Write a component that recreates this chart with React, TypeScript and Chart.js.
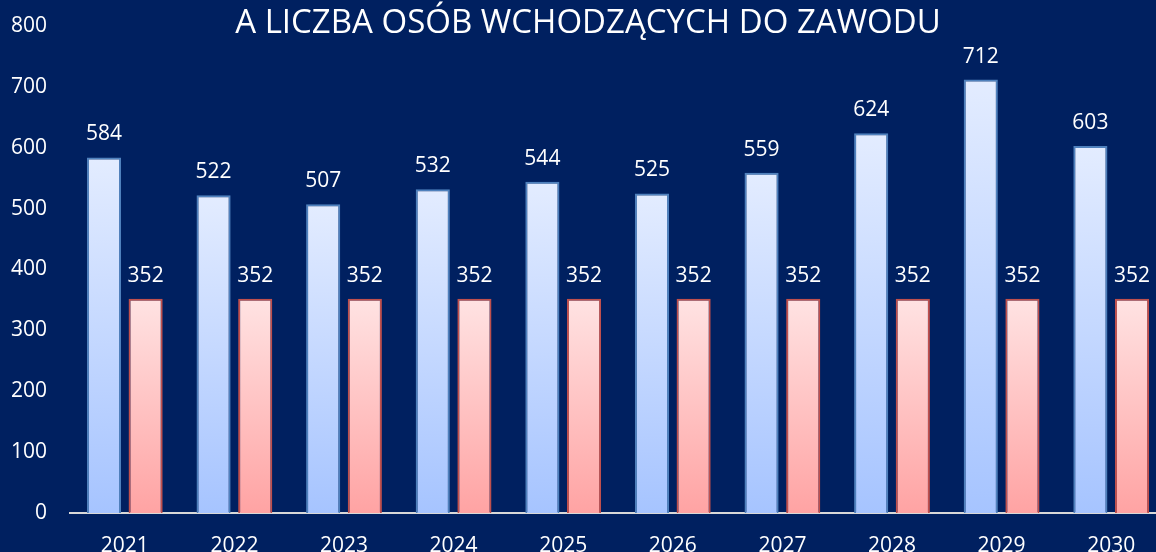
import React, { useEffect, useRef } from "react";
import { Chart, registerables } from "chart.js";

Chart.register(...registerables);

const TITLE = "A LICZBA OSÓB WCHODZĄCYCH DO ZAWODU";
const YEARS = ["2021", "2022", "2023", "2024", "2025", "2026", "2027", "2028", "2029", "2030"];
const SERIES_A = [584, 522, 507, 532, 544, 525, 559, 624, 712, 603];
const SERIES_B = [352, 352, 352, 352, 352, 352, 352, 352, 352, 352];
const Y_MIN = 0;
const Y_MAX = 800;
const Y_STEP = 100;

const FONT = "'Open Sans', 'DejaVu Sans', sans-serif";
const BG = "#002060";

function gradientFill(top: string, bottom: string, fallback: string) {
  return (ctx: any) => {
    const chart = ctx.chart;
    if (!chart.chartArea || ctx.type !== "data") return fallback;
    const y = chart.scales.y;
    const yTop = y.getPixelForValue(ctx.raw);
    const yBot = y.getPixelForValue(0);
    if (!isFinite(yTop) || !isFinite(yBot) || yTop === yBot) return fallback;
    const g = chart.ctx.createLinearGradient(0, yTop, 0, yBot);
    g.addColorStop(0, top);
    g.addColorStop(1, bottom);
    return g;
  };
}

const labelsPlugin = {
  id: "valueLabels",
  afterDatasetsDraw(chart: any) {
    const c = chart.ctx;
    c.save();
    c.font = `21px ${FONT}`;
    c.fillStyle = "#FFFFFF";
    c.textAlign = "center";
    c.textBaseline = "alphabetic";
    chart.data.datasets.forEach((ds: any, i: number) => {
      const meta = chart.getDatasetMeta(i);
      meta.data.forEach((el: any, j: number) => {
        c.fillText(String(ds.data[j]), el.x, el.y - 17);
      });
    });
    c.restore();
  },
};

const titlePlugin = {
  id: "topTitle",
  afterDraw(chart: any) {
    const c = chart.ctx;
    c.save();
    c.font = `33px ${FONT}`;
    c.fillStyle = "#FFFFFF";
    c.textAlign = "center";
    c.textBaseline = "middle";
    c.fillText(TITLE, 588, 24);
    c.restore();
  },
};

export default function App() {
  const ref = useRef<HTMLCanvasElement | null>(null);
  useEffect(() => {
    if (!ref.current) return;
    const chart = new Chart(ref.current, {
      type: "bar",
      data: {
        labels: YEARS,
        datasets: [
          {
            label: "A",
            data: SERIES_A,
            backgroundColor: gradientFill("#E3ECFF", "#A6C4FF", "#C8D9FF"),
            borderColor: "#4F81BD",
            borderWidth: 2,
            categoryPercentage: 0.76,
            barPercentage: 0.82,
          },
          {
            label: "B",
            data: SERIES_B,
            backgroundColor: gradientFill("#FFE3E3", "#FFA3A3", "#FFC8C8"),
            borderColor: "#C0504D",
            borderWidth: 2,
            categoryPercentage: 0.76,
            barPercentage: 0.82,
          },
        ],
      },
      options: {
        responsive: false,
        animation: false,
        devicePixelRatio: 1,
        layout: { padding: { top: 26, left: 0, right: 0, bottom: 0 } },
        plugins: {
          legend: { display: false },
          title: { display: false },
          tooltip: { enabled: false },
        },
        scales: {
          x: {
            grid: { display: false, drawTicks: false },
            border: { display: true, color: "#D9D9D9", width: 2 },
            ticks: { color: "#FFFFFF", font: { family: FONT, size: 21 }, padding: 20 },
            afterFit: (s: any) => {
              s.height = 39;
              s.paddingLeft = 0;
              s.paddingRight = 0;
            },
          },
          y: {
            min: Y_MIN,
            max: Y_MAX,
            grid: { display: false, drawTicks: false },
            border: { display: false },
            ticks: {
              stepSize: Y_STEP,
              color: "#FFFFFF",
              font: { family: FONT, size: 21 },
              padding: 23,
            },
            afterFit: (s: any) => {
              s.width = 70;
              s.paddingTop = 0;
              s.paddingBottom = 0;
            },
          },
        },
      },
      plugins: [labelsPlugin, titlePlugin],
    });
    return () => chart.destroy();
  }, []);

  return (
    <div style={{ position: "fixed", inset: 0, background: BG, overflow: "hidden" }}>
      <canvas ref={ref} width={1166} height={552} style={{ display: "block" }} />
    </div>
  );
}
